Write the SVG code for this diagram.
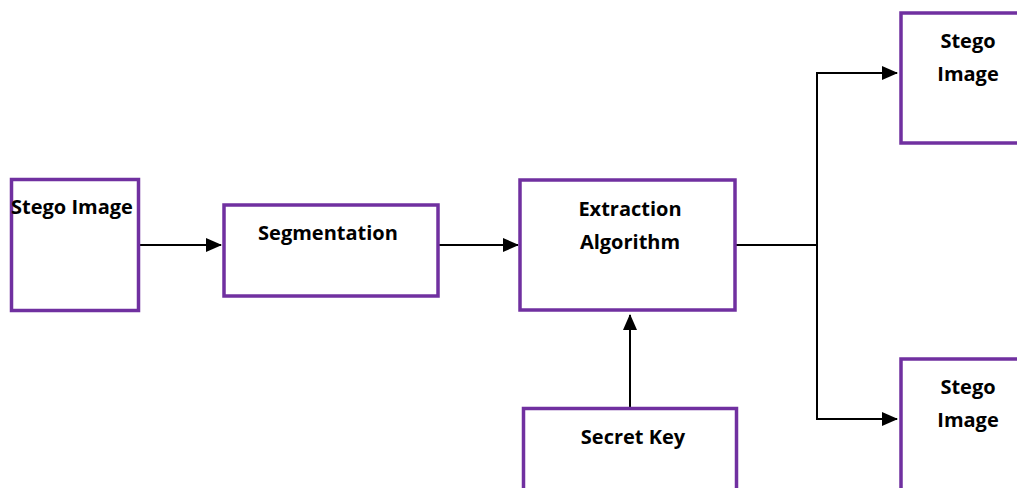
<svg xmlns="http://www.w3.org/2000/svg" width="1017" height="488" viewBox="0 0 1017 488">
<style>
.box{fill:#fff;stroke:#7030A0;stroke-width:3.5}
.t{font-family:"Open Sans","Noto Sans","Liberation Sans",sans-serif;font-weight:bold;font-size:20px;fill:#000}
.c{stroke:#000;stroke-width:2;fill:none}
</style>
<defs>
<marker id="ah2" markerWidth="16" markerHeight="16" refX="15" refY="8" orient="auto" markerUnits="userSpaceOnUse" viewBox="0 0 16 16">
<path d="M0,1 L16,8 L0,15 z" fill="#000"/>
</marker>
</defs>
<g id="connectors">
<line class="c" x1="140" y1="245" x2="221" y2="245" marker-end="url(#ah2)"/>
<line class="c" x1="439" y1="245" x2="518" y2="245" marker-end="url(#ah2)"/>
<polyline class="c" points="736,245 817,245"/>
<polyline class="c" points="817,419 817,73 897,73" marker-end="url(#ah2)"/>
<polyline class="c" points="817,245 817,419 897,419" marker-end="url(#ah2)"/>
<line class="c" x1="630" y1="408" x2="630" y2="315" marker-end="url(#ah2)"/>
</g>
<g id="stego-input">
<rect class="box" x="11.5" y="179.5" width="127" height="131"/>
<text class="t" x="11" y="214">Stego Image</text>
</g>
<g id="segmentation">
<rect class="box" x="224" y="205" width="214" height="91"/>
<text class="t" x="328" y="240" text-anchor="middle">Segmentation</text>
</g>
<g id="extraction">
<rect class="box" x="520" y="180" width="215" height="130"/>
<text class="t" x="630" y="216" text-anchor="middle">Extraction</text>
<text class="t" x="630" y="249" text-anchor="middle">Algorithm</text>
</g>
<g id="secret-key">
<rect class="box" x="523.5" y="408.5" width="213" height="100"/>
<text class="t" x="633" y="444" text-anchor="middle">Secret Key</text>
</g>
<g id="stego-out-1">
<rect class="box" x="901" y="13" width="140" height="130"/>
<text class="t" x="968" y="48" text-anchor="middle">Stego</text>
<text class="t" x="968" y="81" text-anchor="middle">Image</text>
</g>
<g id="stego-out-2">
<rect class="box" x="901" y="359" width="140" height="150"/>
<text class="t" x="968" y="394" text-anchor="middle">Stego</text>
<text class="t" x="968" y="427" text-anchor="middle">Image</text>
</g>
</svg>
